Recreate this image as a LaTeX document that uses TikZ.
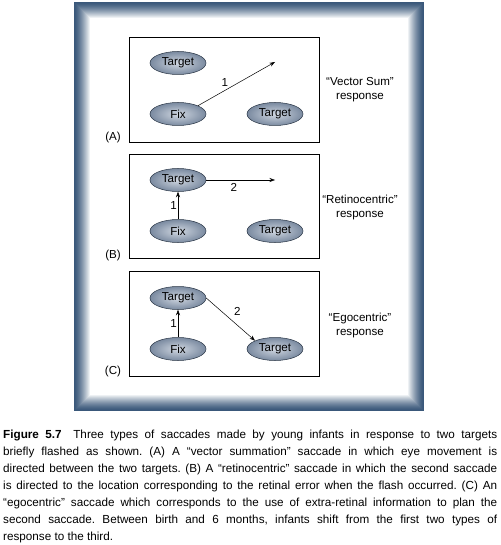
\documentclass[tikz,border=0pt]{standalone}
\usepackage{fontspec}
\setmainfont{Liberation Sans}
\usetikzlibrary{positioning}
\usetikzlibrary{shapes.geometric}
\usetikzlibrary{arrows.meta}
\definecolor{framebl}{RGB}{58,88,122}
\definecolor{spotin}{RGB}{208,215,225}
\definecolor{spotout}{RGB}{122,138,160}
\definecolor{spotline}{RGB}{40,52,68}
\tikzset{
    saccade diagram/.style={
            x=1pt,y=-1pt,
            node distance=51pt,
            font=\fontsize{11.6}{14}\selectfont,
            spot/.style={ellipse,draw=spotline,line width=0.5pt,shade,inner color=spotin,outer color=spotout,
                minimum width=56pt,minimum height=23pt,inner sep=0pt},
            panel/.style={draw,line width=0.6pt},
            arrow/.style={-{Stealth[length=5.5pt,width=4pt]},line width=0.5pt},
            resp/.style={align=center}
        }
    }

\begin{document}
\frenchspacing
\begin{tikzpicture}[saccade diagram]
    \useasboundingbox (0,0) rectangle (500,545);
    % frame
    \foreach \i in {0,...,15} {
        \pgfmathsetmacro\pct{100*(1-(\i/16)^1.4)}
        \draw[draw=framebl!\pct!white,line width=1pt] (74.5+\i,2.5+\i) rectangle (423.5-\i,410.5-\i);
    }
    % (A)
    \draw[panel] (129,37) rectangle (319,142);
    \node[spot] (fixa) at (178,114) {Fix};
    \node[spot] (tla) [above of=fixa] {Target};
    \node[spot] (tra) [right of=fixa,node distance=97pt] {Target};
    \coordinate (enda) at (275,62);
    \draw [arrow] (fixa.north east) -- (enda) node [pos=0.35,above] {1};
    \node (laba) at (113,137) {(A)};
    \node[resp] (respa) at (360,90) {“Vector Sum”\\response};
    % (B)
    \draw[panel] (129,154) rectangle (319,258);
    \node[spot] (fixb) at (178,231) {Fix};
    \node[spot] (tlb) [above of=fixb] {Target};
    \node[spot] (trb) [right of=fixb,node distance=97pt] {Target};
    \coordinate (endb) at (275,180);
    \draw [arrow] (fixb) -- (tlb) node [midway,left,inner sep=1pt] {1};
    \draw [arrow] (tlb) -- (endb) node [pos=0.4,below] {2};
    \node (labb) at (113,255) {(B)};
    \node[resp] (respb) at (360,207.5) {“Retinocentric”\\response};
    % (C)
    \draw[panel] (129,271) rectangle (319,376);
    \node[spot] (fixc) at (178,349) {Fix};
    \node[spot] (tlc) [above of=fixc] {Target};
    \node[spot] (trc) [right of=fixc,node distance=97pt] {Target};
    \draw [arrow] (fixc) -- (tlc) node [midway,left,inner sep=1pt] {1};
    \draw [arrow] (tlc.east) -- (trc.north west) node [midway,above right] {2};
    \node (labc) at (113,371) {(C)};
    \node[resp] (respc) at (360,325) {“Egocentric”\\response};
    % caption
    \node[anchor=base west,text width=494pt,align=justify,inner sep=0pt,
        font=\fontsize{11.7}{17}\selectfont] (capt) at (3,438)
        {\textbf{Figure 5.7}\quad Three types of saccades made by young infants in response to two targets\linebreak
        briefly flashed as shown. (A) A “vector summation” saccade in which eye movement is\linebreak
        directed between the two targets. (B) A “retinocentric” saccade in which the second saccade\linebreak
        is directed to the location corresponding to the retinal error when the flash occurred. (C) An\linebreak
        “egocentric” saccade which corresponds to the use of extra-retinal information to plan the\linebreak
        second saccade. Between birth and 6 months, infants shift from the first two types of\linebreak
        response to the third.};
\end{tikzpicture}
\end{document}
